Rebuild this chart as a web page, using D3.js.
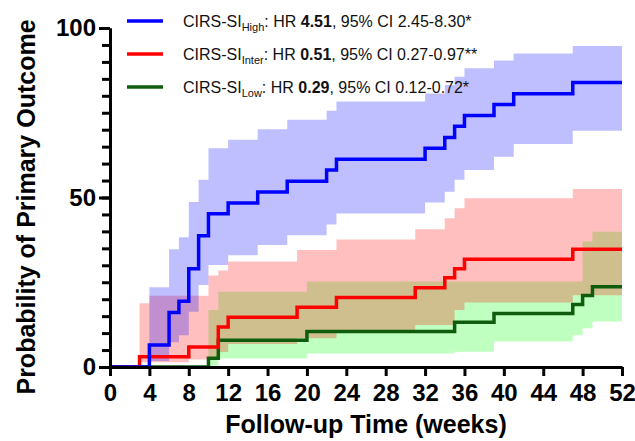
<!DOCTYPE html>
<html lang="en">
  <head>
    <meta charset="UTF-8" />
    <title>CIRS-SI cumulative incidence</title>
    <script src="https://d3js.org/d3.v7.min.js"></script>
    <style>
      body { margin: 0; background: #fff; }
      text { font-family: "Liberation Sans", Arial, sans-serif; }
      .axis path, .axis line { stroke: #000; stroke-width: 3; }
      .axis text { font-size: 24px; font-weight: bold; fill: #000; }
    </style>
  </head>
  <body>
    <svg width="635" height="441"></svg>
<script>

// ticks
var xTicks = [0, 4, 8, 12, 16, 20, 24, 28, 32, 36, 40, 44, 48, 52]
var yTicks = [0, 50, 100]
var yMinorTicks = d3.range(0, 101, 5)

// CIRS-SI High
var highWeeks  = [4, 6, 7, 8, 9, 10, 12, 15, 18, 22, 23, 32, 34, 35, 36, 39, 41, 47]
var highValues = [6.5, 16.1, 19.4, 29.0, 38.7, 45.2, 48.4, 51.6, 54.8, 58.1, 61.3, 64.5, 67.7, 71.0, 74.2, 77.4, 80.6, 83.9]
var highUpper  = [23.5, 34.7, 38.3, 48.7, 55.2, 64.5, 67.0, 70.1, 72.9, 75.6, 78.3, 80.7, 83.2, 85.6, 88.1, 90.4, 92.5, 94.7]
var highLower  = [1.8, 7.3, 9.4, 16.3, 24.2, 30.1, 33.0, 36.0, 38.9, 42.0, 45.3, 48.5, 51.7, 55.2, 58.1, 62.0, 65.8, 69.7]

// CIRS-SI Inter
var interWeeks  = [3, 8, 11, 12, 19, 23, 31, 34, 35, 36, 47]
var interValues = [3.0, 5.9, 11.8, 14.7, 17.6, 20.5, 23.4, 26.3, 29.0, 31.8, 34.7]
var interBandWeeks = [3, 4, 8, 10, 11, 12, 19, 23, 31, 34, 35, 36, 47]
var interUpper  = [18.8, 21.0, 21.0, 27.0, 28.5, 31.1, 34.5, 37.6, 40.6, 43.9, 46.8, 49.8, 52.5]
var interLower  = [1.4, 1.4, 2.2, 2.7, 4.4, 6.8, 8.5, 10.2, 12.4, 12.4, 16.8, 19.0, 21.2]

// CIRS-SI Low
var lowWeeks  = [10, 11, 20, 35, 39, 47, 48, 49]
var lowValues = [2.6, 7.9, 10.5, 13.2, 15.8, 18.4, 21.1, 23.7]
var lowUpper  = [16.8, 22.2, 25.2, 25.2, 25.2, 25.2, 37.0, 39.9]
var lowLower  = [0.4, 2.5, 4.0, 4.5, 7.5, 9.4, 11.4, 13.4]

// legend
var legendNames = ["High", "Inter", "Low"]
var legendHR = ["4.51", "0.51", "0.29"]
var legendCI = [", 95% CI 2.45-8.30*", ", 95% CI 0.27-0.97**", ", 95% CI 0.12-0.72*"]

var endWeek = 52

var svg = d3.select("svg")

var x = d3.scaleLinear().domain([0, 52]).range([110, 622])
var y = d3.scaleLinear().domain([0, 100]).range([367, 28])

function bandPoints(weeks, lower, upper) {
    var pts = weeks.map(function(w, i) { return { w: w, lo: lower[i], hi: upper[i] } })
    var last = pts[pts.length - 1]
    pts.push({ w: endWeek, lo: last.lo, hi: last.hi })
    return pts
}

function linePoints(weeks, values) {
    var pts = [{ w: 0, v: 0 }]
    weeks.forEach(function(w, i) { pts.push({ w: w, v: values[i] }) })
    pts.push({ w: endWeek, v: values[values.length - 1] })
    return pts
}

var area = d3.area()
    .curve(d3.curveStepAfter)
    .x(function(d) { return x(d.w) })
    .y0(function(d) { return y(d.lo) })
    .y1(function(d) { return y(d.hi) })

var line = d3.line()
    .curve(d3.curveStepAfter)
    .x(function(d) { return x(d.w) })
    .y(function(d) { return y(d.v) })

var series = [
    { weeks: lowWeeks, values: lowValues, bandWeeks: lowWeeks, lower: lowLower, upper: lowUpper, color: "#0f5c0f", band: "rgb(0,255,0)" },
    { weeks: interWeeks, values: interValues, bandWeeks: interBandWeeks, lower: interLower, upper: interUpper, color: "#ff0000", band: "rgb(255,0,0)" },
    { weeks: highWeeks, values: highValues, bandWeeks: highWeeks, lower: highLower, upper: highUpper, color: "#0000ff", band: "rgb(0,0,255)" }
]

// bands
svg.append("g").selectAll("path")
    .data(series)
    .enter().append("path")
    .attr("d", function(s) { return area(bandPoints(s.bandWeeks, s.lower, s.upper)) })
    .attr("fill", function(s) { return s.band })
    .attr("fill-opacity", 0.25)

// step lines
svg.append("g").selectAll("path")
    .data(series)
    .enter().append("path")
    .attr("d", function(s) { return line(linePoints(s.weeks, s.values)) })
    .attr("fill", "none")
    .attr("stroke", function(s) { return s.color })
    .attr("stroke-width", 3.5)

// axes
svg.append("g")
    .attr("class", "axis")
    .attr("transform", "translate(0," + y(0) + ")")
    .call(d3.axisBottom(x).tickValues(xTicks).tickSize(9).tickSizeOuter(0).tickPadding(8))

svg.append("g")
    .attr("class", "axis")
    .attr("transform", "translate(" + x(0) + ",0)")
    .call(d3.axisLeft(y).tickValues(yMinorTicks).tickSize(8).tickSizeOuter(0).tickFormat(""))

svg.append("g")
    .attr("class", "axis")
    .attr("transform", "translate(" + x(0) + ",0)")
    .call(d3.axisLeft(y).tickValues(yTicks).tickSize(11).tickSizeOuter(0).tickPadding(3))

// axis titles
svg.append("text")
   .attr("x", (x(0) + x(52)) / 2)
   .attr("y", 433)
   .attr("text-anchor", "middle")
   .attr("font-size", "25px")
   .attr("font-weight", "bold")
   .text("Follow-up Time (weeks)")

svg.append("text")
   .attr("transform", "translate(35," + 207 + ") rotate(-90)")
   .attr("text-anchor", "middle")
   .attr("font-size", "25px")
   .attr("font-weight", "bold")
   .text("Probability of Primary Outcome")

// legend
var legendColors = ["#0000ff", "#ff0000", "#0f5c0f"]
var leg = svg.append("g")
legendNames.forEach(function(name, i) {
    var ly = 21 + i * 33
    leg.append("line")
       .attr("x1", 127).attr("x2", 163)
       .attr("y1", ly).attr("y2", ly)
       .attr("stroke", legendColors[i])
       .attr("stroke-width", 3.5)
    var t = leg.append("text")
       .attr("x", 183)
       .attr("y", ly + 6)
       .attr("font-size", "16px")
       .attr("fill", "#111")
    t.append("tspan").text("CIRS-SI")
    t.append("tspan").attr("font-size", "11px").attr("dy", 4).text(name)
    t.append("tspan").attr("dy", -4).text(": HR ")
    t.append("tspan").attr("font-weight", "bold").text(legendHR[i])
    t.append("tspan").text(legendCI[i])
})

</script>
  </body>
</html>
